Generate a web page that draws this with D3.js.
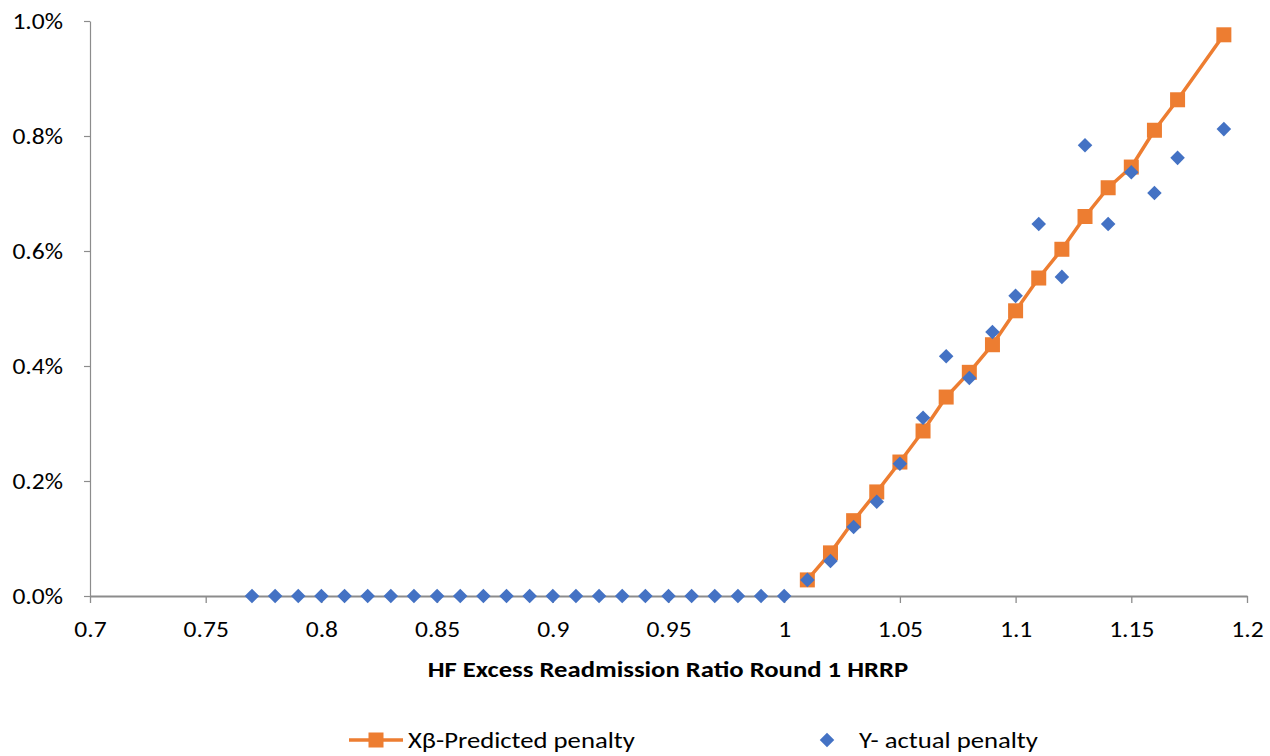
<!DOCTYPE html>
<html>
<head>
<meta charset="utf-8">
<script src="https://cdn.jsdelivr.net/npm/d3@7/dist/d3.min.js"></script>
<style>
  html, body { margin: 0; padding: 0; background: #fff; }
  svg { display: block; }
  svg text { font-family: Carlito, Calibri, Lato, sans-serif; fill: #000; }
</style>
</head>
<body>
<svg id="chart" width="1270" height="756"></svg>
<script>
// HF excess readmission ratio (x) against penalty (fraction)
const predictedRatio = [1.01, 1.02, 1.03, 1.04, 1.05, 1.06, 1.07, 1.08, 1.09, 1.10,
                        1.11, 1.12, 1.13, 1.14, 1.15, 1.16, 1.17, 1.19];
const predictedPenalty = [0.00028, 0.00075, 0.00131, 0.00181, 0.00233, 0.00287, 0.00346, 0.00389, 0.00437, 0.00496,
                          0.00553, 0.00603, 0.00660, 0.00710, 0.00746, 0.00810, 0.00863, 0.00976];

const actualRatio = [0.77, 0.78, 0.79, 0.80, 0.81, 0.82, 0.83, 0.84, 0.85, 0.86, 0.87, 0.88,
                     0.89, 0.90, 0.91, 0.92, 0.93, 0.94, 0.95, 0.96, 0.97, 0.98, 0.99, 1.00,
                     1.01, 1.02, 1.03, 1.04, 1.05, 1.06, 1.07, 1.08, 1.09, 1.10,
                     1.11, 1.12, 1.13, 1.14, 1.15, 1.16, 1.17, 1.19];
const actualPenalty = [0, 0, 0, 0, 0, 0, 0, 0, 0, 0, 0, 0,
                       0, 0, 0, 0, 0, 0, 0, 0, 0, 0, 0, 0,
                       0.00028, 0.00061, 0.00120, 0.00164, 0.00230, 0.00310, 0.00417, 0.00379, 0.00459, 0.00522,
                       0.00647, 0.00555, 0.00784, 0.00647, 0.00737, 0.00701, 0.00762, 0.00812];

const xTicks = [0.7, 0.75, 0.8, 0.85, 0.9, 0.95, 1, 1.05, 1.1, 1.15, 1.2];
const yTicks = [0, 0.002, 0.004, 0.006, 0.008, 0.010];

const xTitle = "HF Excess Readmission Ratio Round 1 HRRP";
const seriesNames = ["Xβ-Predicted penalty", "Y- actual penalty"];

const orange = "#ED7D31";
const blue = "#4472C4";
const axisGray = "#8C8C8C";

// Text is drawn a little wider than its natural width
const STRETCH = 1.16;
function widen(sel) {
  sel.each(function () {
    const w = this.getComputedTextLength();
    d3.select(this).attr("textLength", w * STRETCH).attr("lengthAdjust", "spacingAndGlyphs");
  });
}

const svg = d3.select("#chart");

const x = d3.scaleLinear().domain([0.7, 1.2]).range([90, 1247]);
const y = d3.scaleLinear().domain([0, 0.01]).range([596, 21]);

// Y axis
const yAxis = svg.append("g")
  .attr("transform", `translate(${x(0.7)},0)`)
  .call(d3.axisLeft(y).tickValues(yTicks).tickSize(6).tickSizeOuter(0)
    .tickFormat(d => (d * 100).toFixed(1) + "%"));
yAxis.attr("font-family", null).attr("font-size", null);
yAxis.select(".domain").attr("stroke", axisGray).attr("stroke-width", 1.2);
yAxis.selectAll(".tick line").attr("stroke", axisGray).attr("stroke-width", 1.2);
yAxis.selectAll(".tick text")
  .attr("x", -27).attr("y", 7).attr("dy", null)
  .attr("fill", "#000").style("font-size", "22px")
  .call(widen);

// X axis
const xAxis = svg.append("g")
  .attr("transform", `translate(0,${y(0)})`)
  .call(d3.axisBottom(x).tickValues(xTicks).tickSize(7).tickSizeOuter(0)
    .tickFormat(d => String(+d.toFixed(2))));
xAxis.attr("font-family", null).attr("font-size", null);
xAxis.select(".domain").attr("stroke", axisGray).attr("stroke-width", 2);
xAxis.selectAll(".tick line").attr("stroke", axisGray).attr("stroke-width", 1.3);
xAxis.selectAll(".tick text")
  .attr("y", 41).attr("dy", null)
  .attr("fill", "#000").style("font-size", "22px")
  .call(widen);

// X axis title
svg.append("text")
  .attr("x", 668)
  .attr("y", 677)
  .attr("text-anchor", "middle")
  .style("font-size", "23px")
  .style("font-weight", "bold")
  .text(xTitle)
  .call(widen);

// Predicted penalty: line with square markers
const predicted = predictedRatio.map((r, i) => ({ r, v: predictedPenalty[i] }));
svg.append("path")
  .datum(predicted)
  .attr("fill", "none")
  .attr("stroke", orange)
  .attr("stroke-width", 3.5)
  .attr("stroke-linejoin", "round")
  .attr("d", d3.line().x(d => x(d.r)).y(d => y(d.v)));

const sq = 15;
svg.append("g").selectAll("rect")
  .data(predicted)
  .join("rect")
  .attr("x", d => x(d.r) - sq / 2)
  .attr("y", d => y(d.v) - sq / 2)
  .attr("width", sq).attr("height", sq)
  .attr("fill", orange);

// Actual penalty: diamond markers
const actual = actualRatio.map((r, i) => ({ r, v: actualPenalty[i] }));
const diamond = d3.symbol().type(d3.symbolDiamond2).size(135);
svg.append("g").selectAll("path")
  .data(actual)
  .join("path")
  .attr("transform", d => `translate(${x(d.r)},${y(d.v)})`)
  .attr("d", diamond)
  .attr("fill", blue);

// Legend
const lg = svg.append("g").attr("transform", "translate(0,740)");
lg.append("line").attr("x1", 349).attr("x2", 403).attr("y1", 0).attr("y2", 0)
  .attr("stroke", orange).attr("stroke-width", 3.5);
lg.append("rect").attr("x", 376 - 7.5).attr("y", -7.5).attr("width", 15).attr("height", 15).attr("fill", orange);
lg.append("text").attr("x", 408).attr("y", 8)
  .style("font-size", "23px").text(seriesNames[0]).call(widen);
lg.append("path").attr("transform", "translate(827,0)").attr("d", diamond).attr("fill", blue);
lg.append("text").attr("x", 859).attr("y", 8)
  .style("font-size", "23px").text(seriesNames[1]).call(widen);
</script>
</body>
</html>
